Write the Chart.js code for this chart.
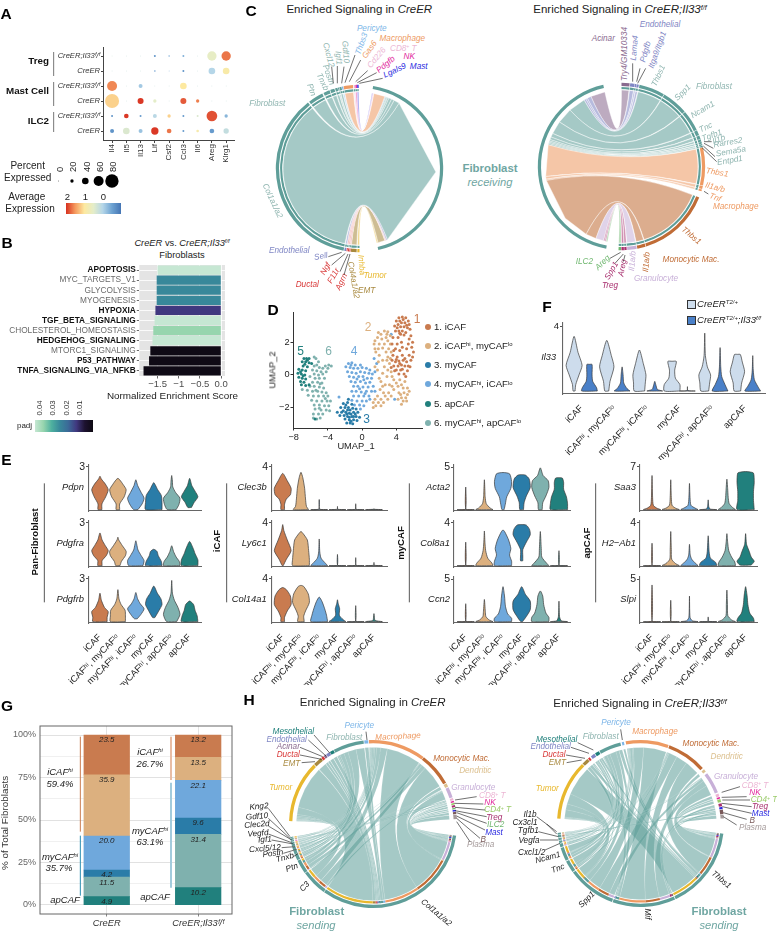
<!DOCTYPE html>
<html><head><meta charset="utf-8">
<script src="https://cdn.jsdelivr.net/npm/chart.js@4"></script>
<style>
html,body{margin:0;padding:0;background:#fff;width:777px;height:932px;overflow:hidden;font-family:"Liberation Sans",Arial,sans-serif}
#page{position:relative;width:777px;height:932px;overflow:hidden}
canvas{position:absolute}
.t{position:absolute;white-space:nowrap;line-height:1;transform-origin:center}
.t sup{font-size:.62em;vertical-align:baseline;position:relative;top:-.45em;line-height:0}
svg{position:absolute;left:0;top:0;pointer-events:none}
</style></head><body><div id="page"></div>
<script>
/* ---------- shared categories ---------- */
const HI='ʰⁱ', LO='ˡᵒ';
const fibroTypes=['iCAF','iCAF'+HI+', myCAF'+LO,'myCAF'+HI+', iCAF'+LO,'myCAF','myCAF'+HI+', apCAF'+LO,'apCAF'];
const fibroColors=['#c97b4f','#dcb07f','#6fa8dc','#2a7ca8','#7fb1ae','#21807d'];
const umapColors=['#c97b4f','#dcb07f','#2a7ca8','#6fa8dc','#21807d','#7fb1ae'];

/* ---------- A: dot plot ---------- */
const dotGenes=['Il4','Il5','Il13','Lif','Csf2','Ccl3','Il6','Areg','Klrg1'];
const dotRows=['CreER;Il33ᶠ/ᶠ','CreER','CreER;Il33ᶠ/ᶠ','CreER','CreER;Il33ᶠ/ᶠ','CreER'];
const dotPct=[
 [4,4,3,12,8,12,3,56,56],
 [3,3,3,9,4,12,3,40,40],
 [60,3,24,2,2,40,2,2,2],
 [84,3,36,20,3,36,20,2,2],
 [12,28,12,24,20,12,12,64,20],
 [24,40,24,44,28,12,16,28,32]];
const dotExpr=[
 [.3,.2,.2,-.6,-.4,-.3,.2,.55,1.7],
 [.2,.2,.2,-.5,-.3,-.6,.2,.0,.9],
 [1.6,.2,-.1,.2,.2,1,.2,.2,.2],
 [1.15,.2,2.05,.5,.2,1.85,1.65,.2,.2],
 [-.6,2.05,-.5,.05,1.15,-.5,.4,1.9,-.25],
 [-.6,.4,-.15,2.05,1.7,-.5,.85,-.5,.15]];
const pctLegend=[0,20,40,60,80];

/* ---------- B: enrichment bars ---------- */
const gseaPathways=['APOPTOSIS','MYC_TARGETS_V1','GLYCOLYSIS','MYOGENESIS','HYPOXIA','TGF_BETA_SIGNALING','CHOLESTEROL_HOMEOSTASIS','HEDGEHOG_SIGNALING','MTORC1_SIGNALING','P53_PATHWAY','TNFA_SIGNALING_VIA_NFKB'];
const gseaNes=[-1.5,-1.52,-1.52,-1.52,-1.55,-1.57,-1.6,-1.62,-1.67,-1.7,-1.83];
const gseaPadj=[.044,.023,.023,.023,.012,.044,.04,.044,.0005,.0005,.0005];
const gseaBold=['APOPTOSIS','HYPOXIA','TGF_BETA_SIGNALING','HEDGEHOG_SIGNALING','P53_PATHWAY','TNFA_SIGNALING_VIA_NFKB'];

/* ---------- D: UMAP ---------- */
const umap1=[[4,3.3],[4.3,3.5],[4.7,3.55],[5.1,3.5],[5.4,3.3],[4.2,3.1],[4.6,3.2],[5,3.2],[5.5,3.1],[3.8,3],[4.1,2.9],[4.5,2.95],[4.9,2.95],[5.3,2.9],[5.6,2.8],[3.9,2.7],[4.3,2.7],[4.7,2.7],[5.1,2.6],[4.5,2.5],[4.9,2.45],[5.7,2.4],[3.6,2.3],[4.2,2.3],[5.5,2.2],[5.9,2],[3.5,1.9],[4.6,2],[5.8,1.7],[3.9,1.6],[4.4,1.5],[5.2,1.6],[6,1.4],[3.6,1.2],[4.1,1.1],[4.7,1.2],[5.5,1.2],[3.5,.9],[3.9,.8],[4.3,.85],[4.8,.9],[5.2,.8],[5.7,.9],[3.7,.55],[4.2,.55],[4.6,.6],[5,.55],[5.6,.5],[4,.3],[4.5,.3],[5.3,.25],[4.3,.05],[4.9,.05],[5.1,-.1],[4.4,3.3],[4.8,3.4],[5.2,3.05],[4.4,2.55],[3.4,.45],[4.7,1.7],[5.4,1.9],[4.1,1.9],[3.7,1.5],[5,1],[4.4,.7],[4.7,.35],[5.4,.55],[4,.95],[5.9,1.1],[3.8,.25]];
const umap2=[[2.2,2.5],[2.6,2.7],[3,2.65],[3.3,2.4],[1.8,2.3],[2.3,2.2],[2.8,2.3],[1.5,2.1],[3,2.1],[1.4,1.9],[2,1.9],[2.6,1.9],[3.3,1.9],[1.5,1.6],[1.9,1.6],[2.4,1.65],[3.1,1.6],[1.6,1.4],[2.8,1.4],[3.4,1.4],[3,1.1],[3.3,1],[2.4,.9],[3.2,.7],[2.6,.5],[1.9,.8],[1.8,.3],[2.4,.1],[3,.3],[2.9,-.1],[3.5,-.1],[2.2,-.4],[3.7,-.3],[4.4,-.3],[5,-.4],[2.7,-.6],[3.2,-.6],[4.2,-.7],[4.8,-.8],[5.3,-.8],[2.1,-.9],[3.7,-.9],[2.5,-1.1],[3.1,-1.1],[4.3,-1.1],[4.9,-1.1],[5.3,-1.2],[1.8,-1.3],[2.7,-1.3],[4.6,-1.4],[5.1,-1.4],[1.5,-1.5],[2.2,-1.5],[3,-1.5],[4.2,-1.5],[4.8,-1.6],[5.2,-1.6],[1.3,-1.7],[1.9,-1.7],[2.5,-1.7],[4.6,-1.8],[1.6,-1.9],[2.2,-1.9],[1.3,-2],[2.9,.9],[3.4,.2],[4,-.5],[4.6,-.6],[3.4,-1.3],[2.4,-.7],[2,-.2],[1.5,.5],[2,1.2],[2.9,2.5],[1.9,2.6],[3.5,-.7],[5.5,-1],[4.5,-1.2]];
const umap3=[[-2.2,-1.75],[-1.7,-1.7],[-1.2,-1.8],[-2.5,-2],[-2,-2],[-1.6,-2],[-1.1,-2.05],[-.7,-2.1],[-2.9,-2.3],[-2.4,-2.3],[-1.9,-2.3],[-1.5,-2.35],[-1,-2.3],[-.5,-2.3],[-2.6,-2.5],[-2.1,-2.5],[-1.7,-2.55],[-1.2,-2.55],[-.7,-2.55],[-.3,-2.6],[-2,-2.7],[-1.5,-2.75],[-1,-2.75],[-.6,-2.8],[-1.8,-2.95],[-1.4,-2.95],[-1.1,-3],[-1.9,-1.85],[-1.4,-2.15],[-2.2,-2.2],[-1.7,-2.15],[-1.3,-2.4],[-.8,-2.4],[-1.8,-2.4],[-1.5,-2.6],[-1,-2.55],[-1.3,-2.85],[-1.6,-1.5]];
const umap4=[[-1.6,.7],[-1.2,.75],[-.8,.6],[-1.9,.5],[-1.4,.45],[-1,.4],[-.5,.4],[0,.45],[.5,.4],[.9,.3],[-1.7,.2],[-1.2,.15],[-.7,.1],[-.2,.2],[.3,.15],[.8,.1],[1.2,.05],[-1.5,-.1],[-1,-.15],[-.4,-.1],[.1,-.1],[.6,-.2],[1.1,-.2],[-1.3,-.4],[-.8,-.45],[-.2,-.4],[.4,-.5],[.9,-.45],[-1,-.7],[-.5,-.7],[.1,-.75],[.7,-.75],[1.3,-.7],[-1.2,-1],[-.7,-1],[-.1,-1.05],[.5,-1],[1.1,-1],[1.5,-1],[-1,-1.3],[-.4,-1.3],[.2,-1.3],[.8,-1.3],[-1.2,-1.55],[-.6,-1.6],[0,-1.6],[.5,-1.6],[-.9,-1.85],[-.3,-1.85],[.2,-1.9],[-.2,-2.1],[-2.7,-1.35],[1.4,1],[1.7,.7],[1.5,.2],[-1.3,.6],[-.2,.6],[.2,-.3],[-.6,-.25],[.9,-1.5],[-.3,-.85],[.35,-1.15],[3.8,-1.5],[3.4,2.5]];
const umap5=[[-6.8,1],[-6.5,1],[-6.2,1],[-7,.8],[-6.6,.8],[-6.2,.75],[-5.9,.7],[-6.9,.55],[-6.4,.5],[-7.4,.35],[-7,.3],[-6.6,.25],[-7.5,.1],[-7.1,.05],[-6.7,0],[-7.4,-.15],[-7,-.2],[-6.6,-.25],[-7.2,-.4],[-6.8,-.45],[-7.1,-.6],[-6.6,-.65],[-6.2,-.6],[-6.4,.9],[-6.7,.65],[-7.2,.2],[-6.9,-.05],[-5.5,-2.7]];
const umap6=[[-5.6,1.1],[-5.4,1],[-5.1,.8],[-3.9,.6],[-3.6,.55],[-4.3,.55],[-5.6,.55],[-5,.45],[-4.6,.4],[-5.8,.3],[-5.3,.25],[-4.8,.2],[-4.2,.2],[-5.6,.05],[-5.1,0],[-4.6,.05],[-6.1,-.1],[-5.5,-.2],[-5,-.2],[-4.4,-.2],[-5.8,-.45],[-5.2,-.45],[-4.7,-.5],[-6.1,-.7],[-5.6,-.7],[-5,-.75],[-4.5,-.8],[-6.4,-.95],[-5.8,-1],[-5.2,-1],[-4.7,-1.05],[-4.2,-1.1],[-6.3,-1.25],[-5.7,-1.3],[-5.1,-1.3],[-4.5,-1.3],[-4,-1.3],[-5.9,-1.55],[-5.3,-1.6],[-4.7,-1.6],[-4.1,-1.6],[-3.7,-1.6],[-5.6,-1.85],[-5,-1.85],[-4.4,-1.9],[-3.9,-1.9],[-5.5,-2.1],[-4.8,-2.15],[-4.2,-2.15],[-3.8,-2.2],[-5.7,-2.4],[-5.1,-2.4],[-4.6,-2.4],[-5.7,-2.65],[-5.3,-2.7],[-4.9,-2.65],[-7,-.9],[-4,.4],[-5.3,.6],[-4.9,-.55],[-5.4,-.95],[-4.3,-1.45],[-5,-2.05]];

/* ---------- E: violin profiles, pairs of [expression, half width] ---------- */
const Pdpn=[[[0,.11],[.4,.11],[.9,.32],[1.4,.46],[1.8,.3],[2.15,.08],[2.35,0]],[[0,.1],[.4,.1],[.9,.35],[1.4,.46],[1.75,.3],[2.1,.1],[2.2,0]],[[0,.12],[.4,.35],[.8,.46],[1.2,.3],[1.7,.1],[2.1,0]],[[0,.46],[.5,.46],[1,.42],[1.4,.22],[1.75,.08],[1.9,0]],[[0,.25],[.35,.4],[.8,.46],[1.2,.22],[1.6,.06],[2,.04],[2.4,0]],[[.15,.1],[.5,.25],[.9,.46],[1.3,.3],[1.7,.12],[2.2,0]]];
const Pdgfra=[[[0,.12],[.35,.12],[.7,.35],[1.05,.46],[1.4,.3],[1.8,.12],[2.3,0]],[[0,.12],[.3,.2],[.7,.42],[1,.46],[1.4,.25],[1.8,.05],[2,0]],[[0,.4],[.35,.46],[.7,.3],[1.1,.12],[1.5,.05],[1.75,0]],[[0,.46],[.3,.42],[.7,.25],[1,.18],[1.15,0]],[[0,.46],[.3,.42],[.6,.25],[1,.1],[1.4,0]],[[0,.46],[.4,.46],[.85,.3],[1.2,.2],[1.7,0]]];
const Pdgfrb=[[[0,.4],[.3,.4],[.7,.46],[1,.25],[1.5,.08],[2,0]],[[0,.42],[.4,.42],[.8,.4],[1.2,.18],[1.6,.06],[2.25,0]],[[.2,.08],[.5,.28],[.9,.46],[1.25,.25],[1.6,.1],[2.05,0]],[[.28,.06],[.8,.3],[1.2,.46],[1.6,.4],[2,.2],[2.5,0]],[[0,.28],[.5,.46],[1,.35],[1.5,.15],[2,.04],[2.9,0]],[[0,.46],[.4,.42],[.8,.3],[1.2,.22],[1.45,0]]];
const Clec3b=[[[0,.1],[.5,.1],[1,.2],[1.4,.42],[2,.46],[2.7,.25],[3.4,0]],[[0,.42],[.3,.3],[1,.25],[2,.2],[3,.1],[3.5,0]],[[0,.46],[.05,.02],[.6,.015],[.95,0]],[[0,.46],[.04,.012],[.3,0]],[[0,.46],[.04,.012],[.55,0]],[[0,.46],[.03,.01],[.08,0]]];
const Ly6c1=[[[0,.03],[.6,.2],[1.4,.46],[2.4,.25],[3.3,.06],[3.85,0]],[[0,.46],[.6,.46],[1.4,.42],[2.4,.35],[3,.12],[3.2,0]],[[0,.46],[.2,.35],[.7,.1],[1.3,.03],[2.5,0]],[[0,.46],[.04,.012],[1.05,0]],[[0,.46],[.04,.012],[.75,0]],[[0,.46],[.04,.012],[.3,0]]];
const Col14a1=[[[0,.1],[.4,.1],[1,.25],[1.6,.46],[2.4,.42],[3,.2],[3.2,0]],[[0,.18],[.5,.15],[1,.25],[1.8,.46],[2.6,.4],[3.3,.15],[3.4,0]],[[0,.46],[.6,.4],[1.2,.3],[1.9,.15],[2.3,0]],[[0,.46],[.2,.3],[.6,.1],[1.2,.12],[1.7,.04],[2.05,0]],[[0,.46],[.04,.012],[1.5,0]],[[0,.46],[.1,.06],[.3,.03],[.75,0]]];
const Acta2=[[[0,.46],[.05,.012],[2.65,0]],[[0,.46],[.2,.3],[.7,.1],[1.5,.04],[2.1,.03],[3.5,0]],[[0,.06],[.6,.12],[1.5,.2],[2.5,.42],[3.3,.46],[4.2,.35],[4.35,0]],[[0,.1],[.8,.13],[1.6,.25],[2.6,.46],[3.6,.4],[4.05,.2],[4.1,0]],[[0,.1],[.8,.13],[1.6,.3],[2.6,.46],[3.4,.42],[4,.15],[4.9,0]],[[0,.46],[.7,.46],[1.5,.4],[2.4,.25],[3.2,.25],[3.7,.18],[3.75,0]]];
const Col8a1=[[[0,.46],[.04,.012],[2.2,0]],[[0,.46],[.25,.4],[.7,.18],[1.4,.07],[2.2,.03],[3.25,0]],[[0,.46],[.4,.46],[1,.35],[1.6,.42],[2.4,.3],[3.15,.1],[3.35,0]],[[.45,.06],[.9,.06],[1.5,.06],[2.2,.25],[2.9,.46],[3.4,.42],[3.8,.25],[3.85,0]],[[0,.46],[.2,.35],[.8,.08],[1.6,.05],[3.2,0]],[[0,.46],[.04,.012],[1.4,0]]];
const Ccn2=[[[0,.46],[.05,.012],[2.1,0]],[[0,.46],[.2,.25],[.6,.08],[1.2,.05],[2.6,0]],[[0,.46],[.4,.46],[.9,.25],[1.8,.13],[3,.08],[4.1,0]],[[0,.05],[.6,.25],[1.4,.46],[2.4,.46],[3.2,.2],[4.1,0]],[[0,.46],[.5,.46],[1,.3],[2,.18],[3,.13],[3.6,0]],[[0,.46],[.1,.12],[.6,.03],[2.4,0]]];
const Saa3=[[[0,.46],[.25,.25],[.7,.07],[2,.03],[5.6,0]],[[0,.46],[.25,.25],[.7,.07],[2,.03],[4.9,0]],[[0,.46],[.25,.3],[.7,.08],[2,.03],[4.3,0]],[[0,.46],[.1,.1],[.5,.03],[1.6,0]],[[0,.46],[.35,.3],[1,.12],[2,.07],[3.5,.04],[5,0]],[[0,.46],[1.5,.42],[3,.42],[4.5,.46],[6,.42],[6.2,.2],[6.25,0]]];
const H2Ab1=[[[0,.46],[.04,.012],[2.1,0]],[[0,.46],[.2,.25],[.6,.05],[1.5,.03],[3.2,0]],[[0,.46],[.25,.3],[.6,.12],[1,.04],[2,0]],[[0,.46],[.3,.4],[.7,.12],[1.3,.05],[2.8,0]],[[0,.46],[.35,.42],[.8,.25],[1.4,.1],[2.2,.04],[3,0]],[[.05,.3],[.4,.46],[.8,.3],[1.3,.2],[2,.05],[3,0]]];
const Slpi=[[[0,.46],[.05,.012],[4.3,0]],[[0,.46],[.05,.012],[2.5,0]],[[0,.46],[.1,.15],[.5,.03],[3,0]],[[0,.46],[.04,.012],[.55,0]],[[0,.46],[.2,.25],[.7,.05],[2,.03],[3.7,0]],[[0,.46],[.4,.42],[1,.22],[2,.12],[3,.08],[4.1,0]]];

/* ---------- F: Il33 split violins ---------- */
const il33Control=[[[0,.03],[.4,.05],[1,.15],[1.6,.245],[2.4,.12],[3.4,0]],[[0,.06],[.6,.1],[1.5,.22],[2.2,.14],[3.15,0]],[[0,.16],[.5,.18],[1,.2],[1.7,.12],[2.55,0]],[[0,.24],[.4,.24],[.8,.1],[1.3,.08],[1.84,.13],[1.85,0]],[[0,.12],[.5,.15],[1,.18],[1.5,.08],[2.2,.02],[3.6,0]],[[0,.1],[.5,.13],[1.2,.22],[1.8,.15],[2.27,.09],[2.28,0]]];
const il33Flox=[[[0,.24],[.2,.22],[.6,.1],[1,.08],[1.65,.08],[1.66,0]],[[0,.24],[.15,.15],[.5,.05],[1,.03],[1.5,0]],[[0,.24],[.1,.08],[.4,.03],[.6,0]],[[0,.24],[.03,.01],[.27,0]],[[0,.24],[.4,.15],[.9,.05],[1.5,.02],[2.7,0]],[[0,.24],[.3,.15],[.7,.05],[1.3,.015],[2.2,0]]];

/* ---------- G: stacked composition ---------- */
const compGroups=['CreER','CreER;Il33ᶠ/ᶠ'];
const compStackOrder=[5,4,3,2,1,0];
const compCre=[4.9,11.5,4.2,20.0,35.9,23.5];
const compFlox=[10.2,31.4,9.6,22.1,13.5,13.2];

/* ---------- C / H: chord diagrams ---------- */
const pal={F:'#5f9e99',Mac:'#ee9a62',Mono:'#c06c36',Den:'#dcc08f',Gran:'#c8b0d8',CD8:'#ecb6d4',NK:'#e1259b',CD4:'#9acb6a',Treg:'#a8306f',ILC:'#70b870',Mast:'#2a2ae0',B:'#7a5a5a',Pla:'#a59a9a',Tum:'#e8b82e',EMT:'#a8893f',Duc:'#d93a3a',Aci:'#8a6a8f',End:'#7f86c4',Mes:'#1e7f7a',Per:'#7db6e8'};
const cLeftSectors=['g0','R','g1','Inhba','g2','Col4','g3','Agrn','g4','F11r','g5','Ngf','g6','Sell','g7','Col1','g8','Ptn','g9','Tnxb','g10','Postn','g11','Cxcl12','g12','Igf1','g13','Gdf10','g14','Thbs3','g15','Gas6','g16','Cd226','g17','Pdgfb','g18','Lgals9','g19'];
const cLeftSpans=[9.4,157.6,13,1.5,.5,4,.3,.7,.3,.7,.3,.7,.3,1.2,.5,131,1,10.6,.9,4.5,.5,3,.5,1.7,.3,.7,.3,1.5,.3,.9,.3,6.5,.5,1,.2,1,.2,1,.6];
const cLeftColors=['gap','F','gap','Tum','gap','EMT','gap','Duc','gap','Duc','gap','Duc','gap','End','gap','F','gap','F','gap','F','gap','F','gap','F','gap','F','gap','F','gap','Per','gap','Mac','gap','CD8','gap','NK','gap','Mast','gap'];
const cLeftLinks=[['Inhba','R',1],['Col4','R',5],['Agrn','R',.3],['F11r','R',.3],['Ngf','R',.3],['Sell','R',1],['Col1','R',119],['Ptn','R',4],['Tnxb','R',2],['Postn','R',2],['Cxcl12','R',1],['Igf1','R',.6],['Gdf10','R',.8],['Thbs3','R',.6],['Gas6','R',8],['Cd226','R',.5],['Pdgfb','R',.4],['Lgals9','R',.4]];

const cRightSectors=['Try4','g1','Lama4','g2','Pdgfb','g3','Itga9','g4','Thbs1F','g5','Spp1F','g6','Ncam1','g7','Tnc','g8','Tgfb1','g9','Il1b','g10','Rarres2','g11','Sema5a','g12','Entpd1','g13','Thbs1M','g14','Il1M','g15','Tnf','g16','Thbs1O','g17','Il1O','g18','Il1G','g19','AregT','g20','Spp1T','g21','AregI','g22','R','g23'];
const cRightSpans=[5.6,.4,3,.2,1.1,.2,1.5,.5,17.9,.4,18.2,.4,14.6,.4,3.6,.3,2.5,.3,1.5,.3,1.2,.3,1,.3,.8,.4,26.2,.4,2.2,.3,1.3,4.5,51.1,.4,5.8,.4,6.6,.4,1.6,.3,1.7,.3,1.7,8.5,156.9,12.6];
const cRightColors=['Aci','gap','End','gap','End','gap','End','gap','F','gap','F','gap','F','gap','F','gap','F','gap','F','gap','F','gap','F','gap','F','gap','Mac','gap','Mac','gap','Mac','gap','Mono','gap','Mono','gap','Gran','gap','Treg','gap','Treg','gap','ILC','gap','F','gap'];
const cRightLinks=[['Try4','R',11],['Lama4','R',3],['Pdgfb','R',1.3],['Itga9','R',1.5],['Thbs1F','R',13],['Spp1F','R',12],['Ncam1','R',10],['Tnc','R',3],['Tgfb1','R',2],['Il1b','R',1.2],['Rarres2','R',1],['Sema5a','R',1],['Entpd1','R',1],['Thbs1M','R',24],['Il1M','R',2],['Tnf','R',1],['Thbs1O','R',52],['Il1O','R',8],['Il1G','R',6],['AregT','R',1],['Spp1T','R',1],['AregI','R',1]];

const hLeftSectors=['Mac','g1','Mono','g2','Den','g3','Gran','g4','CD8','g5','NK','g6','CD4','g7','Treg','g8','ILC','g9','Mast','g10','B','g11','Pla','g12','Col1','g13','C3','g14','Ptn','g15','Tnxb','g16','Postn','g17','Cxcl','g18','Igf1','g19','Vegfd','g20','Clec2d','g21','Gdf10','g22','Kng2','g23','Tum','g24','EMT','g25','Duc','g26','Aci','g27','End','g28','Mes','g29','F','g30','Per','g31'];
const hLeftSpans=[39.8,.3,23.2,.5,2.5,.5,7.4,.6,1.5,.4,1.1,.4,1.1,.4,1.5,.4,1,.4,1,.4,1.6,.4,3,11.4,117.6,.4,18,.4,9.6,.4,4.1,.3,2.7,.3,2.2,.3,1.5,.3,1.2,.3,1,.3,1.1,.3,.7,11,43,.5,6.2,.3,1.8,.3,1.7,.3,2.7,.3,2.7,.4,21.3,.5,2.7,.5];
const hLeftColors=['Mac','gap','Mono','gap','Den','gap','Gran','gap','CD8','gap','NK','gap','CD4','gap','Treg','gap','ILC','gap','Mast','gap','B','gap','Pla','gap','F','gap','F','gap','F','gap','F','gap','F','gap','F','gap','F','gap','F','gap','F','gap','F','gap','F','gap','Tum','gap','EMT','gap','Duc','gap','Aci','gap','End','gap','Mes','gap','F','gap','Per','gap'];
const hLeftLinks=[['Col1','Pla',1],['Col1','B',.7],['Col1','Mast',.7],['Col1','ILC',.6],['Col1','Treg',.8],['Col1','CD4',.6],['Col1','NK',.5],['Col1','CD8',.6],['Col1','Gran',14],['Col1','Den',.7],['Col1','Mono',28],['Col1','Mac',26],['Col1','Per',1.5],['Col1','F',2],['Col1','Mes',1],['Col1','End',1],['Col1','Aci',.8],['Col1','Duc',1],['Col1','EMT',2],['Col1','Tum',36],
['C3','Gran',1.5],['C3','Mono',5],['C3','Mac',5],['C3','Tum',6],
['Ptn','Gran',.7],['Ptn','Mono',3],['Ptn','Mac',3],['Ptn','F',2],['Ptn','Tum',1.5],
['Tnxb','Mono',.8],['Tnxb','Mac',1.5],['Tnxb','F',1],['Tnxb','Tum',1],
['Postn','Mac',1],['Postn','F',1],['Postn','Tum',1],
['Cxcl','Gran',.5],['Cxcl','Mac',1],['Cxcl','Tum',.7],
['Igf1','Mac',.7],['Igf1','F',.4],['Igf1','Tum',.4],
['Vegfd','Mono',.3],['Vegfd','Mac',.6],['Vegfd','Tum',.3],
['Clec2d','NK',.5],['Clec2d','CD8',.5],
['Gdf10','Mac',.4],['Gdf10','F',.3],['Gdf10','Tum',.4],
['Kng2','Mac',.3],['Kng2','Tum',.4]];

const hRightSectors=['Mac','g1','Mono','g2','Den','g3','Gran','g4','CD8','g5','NK','g6','CD4','g7','Treg','g8','Mast','g9','B','g10','Pla','g11','Thbs1','g12','Mif','g13','Spp1','g14','Tnc','g15','Ncam1','g16','Cxcl','g17','Vegfa','g18','Tgfb1','g19','Cx3cl1','g20','Il1b','g21','Tum','g22','EMT','g23','Duc','g24','End','g25','Mes','g26','F','g27','Per','g28'];
const hRightSpans=[30,.6,28,1.2,2,1.5,15,1,2,.5,1,.5,2,1,2,.5,1.5,.4,3.1,.4,2.6,10.5,58,.5,44,.5,34,.5,8.5,.5,9.5,.5,2.5,.4,1.6,.4,1.6,.4,1.6,.3,1.2,9.9,42.1,.5,4.6,.4,1.5,1,3,.5,3,.5,15.5,1,1.5,1.2];
const hRightColors=['Mac','gap','Mono','gap','Den','gap','Gran','gap','CD8','gap','NK','gap','CD4','gap','Treg','gap','Mast','gap','B','gap','Pla','gap','F','gap','F','gap','F','gap','F','gap','F','gap','F','gap','F','gap','F','gap','F','gap','F','gap','Tum','gap','EMT','gap','Duc','gap','End','gap','Mes','gap','F','gap','Per','gap'];
const hRightLinks=[['Thbs1','Pla',.8],['Thbs1','B',.8],['Thbs1','Mast',.5],['Thbs1','Treg',1],['Thbs1','CD4',.5],['Thbs1','NK',.3],['Thbs1','CD8',.6],['Thbs1','Gran',14],['Thbs1','Den',.5],['Thbs1','Mono',14],['Thbs1','Per',.7],['Thbs1','F',2],['Thbs1','Mes',1],['Thbs1','Duc',.5],['Thbs1','EMT',1],['Thbs1','Tum',20],
['Mif','B',1],['Mif','Treg',1.5],['Mif','Gran',8],['Mif','Mono',11],['Mif','Mac',20],['Mif','F',2],['Mif','Mes',.8],['Mif','End',1],
['Spp1','Gran',4],['Spp1','Mono',8],['Spp1','Mac',9],['Spp1','F',4],['Spp1','EMT',1],['Spp1','Tum',7],
['Tnc','Mono',1],['Tnc','Mac',1],['Tnc','F',2],['Tnc','Tum',4],
['Ncam1','Mac',2],['Ncam1','F',2],['Ncam1','End',.5],['Ncam1','Duc',.5],['Ncam1','Tum',5],
['Cxcl','Gran',1],['Cxcl','Mac',.8],['Cxcl','Tum',.7],
['Vegfa','Mono',.4],['Vegfa','Mac',.5],['Vegfa','End',1],
['Tgfb1','Mono',.5],['Tgfb1','Mac',.5],['Tgfb1','F',.3],['Tgfb1','Tum',.3],
['Cx3cl1','B',.7],['Cx3cl1','Mono',.5],['Cx3cl1','Mac',.4],
['Il1b','Gran',.4],['Il1b','Mac',.4],['Il1b','F',.3],['Il1b','Tum',.2]];

/* ---------- text tables: [html, x, y, rotation, colour] ---------- */
const cLeftText=[['Pericyte',371.7,29,0,'Per'],['Macrophage',402.3,39,0,'Mac'],['CD8<sup>+</sup> T',403.3,48.7,0,'CD8'],['NK',409.3,56.7,0,'NK'],['Mast',418.7,66.7,0,'Mast'],['Lgals9',395,71.3,-25,'Mast'],['Pdgfb',386,65.3,-40,'NK'],['Cd226',377.3,57.7,-50,'CD8'],['Gas6',370,50,-55,'Mac'],['Thbs3',361.7,44.3,-70,'Per'],['Gdf10',345,51.7,85,'Ft'],['Igf1',337.7,58.3,85,'Ft'],['Cxcl12',328.3,55,75,'Ft'],['Postn',327.7,75,70,'Ft'],['Tnxb',321.7,81.7,65,'Ft'],['Ptn',310.7,90.3,70,'Ft'],['Fibroblast',267.3,103.7,0,'Ft'],['Col1a1/a2',272.3,201,65,'Ft'],['Endothelial',289.3,250.7,0,'End'],['Sell',320.7,257.3,-10,'End'],['Ngf',325.7,269.3,-60,'Duc'],['F11r',334.3,276,-60,'Duc'],['Agrn',342.3,281.7,-65,'Duc'],['Ductal',307.3,285,0,'Duc'],['Col4a1/a2',353.3,280,80,'EMT'],['Inhba',361,265,85,'Tum'],['Tumor',375,276,0,'Tum'],['EMT',366.7,291,0,'EMT']];
const cRightText=[['Acinar',603.3,39.3,0,'Aci'],['Try4/GM10334',625,54,-90,'Aci'],['Lama4',635,48.3,-85,'End'],['Pdgfb',645.7,51.7,-75,'End'],['Itga9/Itgb1',658.3,50,-70,'End'],['Endothelial',660,25,0,'End'],['Thbs1',659.3,75.7,-65,'Ft'],['Spp1',682.7,93.3,-45,'Ft'],['Fibroblast',714,87.3,0,'Ft'],['Ncam1',703.3,110,-30,'Ft'],['Tnc',705.7,127.7,-25,'Ft'],['Tgfb1',711.7,135.7,-20,'Ft'],['Il1b',719.3,140,-20,'Ft'],['Rarres2',728.3,143.3,-10,'Ft'],['Sema5a',731,151.7,-10,'Ft'],['Entpd1',730,160.7,-10,'Ft'],['Thbs1',717.3,172.7,10,'Mac'],['Il1a/b',715,187.7,15,'Mac'],['Tnf',715,197.7,20,'Mac'],['Macrophage',735.7,207.3,0,'Mac'],['Thbs1',691,236,40,'Mono'],['Monocytic Mac.',691,260,0,'Mono'],['Il1a/b',646.7,261.7,-85,'Mono'],['Il1a/b',633.3,261,-85,'Gran'],['Areg',603.3,263.3,-45,'ILC'],['ILC2',584.3,262.3,0,'ILC'],['Spp1',611.7,270.7,-60,'Treg'],['Areg',623,268.3,-80,'Treg'],['Treg',610,285.7,0,'Treg'],['Granulocyte',656,279.3,0,'Gran']];
const hLeftText=[['Pericyte',359.3,726,0,'Per'],['Mesothelial',293.3,731.7,0,'Mes'],['Fibroblast',344.3,737.7,0,'Ft'],['Macrophage',398.3,736.7,-3,'Mac'],['Monocytic Mac.',461.7,759,0,'Mono'],['Endothelial',286.7,740,0,'End'],['Acinar',288.3,747.3,0,'Aci'],['Ductal',288.3,755,0,'Duc'],['EMT',291.7,764,0,'EMT'],['Tumor',280.7,787.7,0,'Tum'],['Dendritic',475.3,771,0,'Den'],['Granulocyte',473.3,787.7,0,'Gran'],['CD8<sup>+</sup> T',492.3,796,0,'CD8'],['NK',490,803.3,0,'NK'],['CD4<sup>+</sup> T',497.7,810.3,0,'CD4'],['Treg',494.3,817.7,0,'Treg'],['ILC2',495.7,825.3,0,'ILC'],['Mast',494,833,0,'Mast'],['B',483.3,840,0,'B'],['Plasma',480.7,845,0,'Pla'],['Kng2',259,807.3,-5,'K'],['Gdf10',257.3,817,-5,'K'],['Clec2d',256.7,825,-5,'K'],['Vegfd',258.3,833.7,-5,'K'],['Igf1',265,840.3,-5,'K'],['Cxcl5/12',265,849,-5,'K'],['Postn',273.3,854.3,-8,'K'],['Tnxb',284.7,857.7,-15,'K'],['Ptn',291.7,868.3,-20,'K'],['C3',305,886.7,-45,'K'],['Col1a1/a2',435.7,913.3,40,'K']];
const hRightText=[['Pericyte',616,723.3,0,'Per'],['Mesothelial',556.7,740,0,'Mes'],['Fibroblast',600.7,737.3,0,'Ft'],['Macrophage',655,731.7,0,'Mac'],['Monocytic Mac.',711,744,0,'Mono'],['Endothelial',550.7,747.3,0,'End'],['Ductal',554,755,0,'Duc'],['EMT',557.3,763.3,0,'EMT'],['Tumor',547.3,789.3,0,'Tum'],['Dendritic',726.7,757.3,0,'Den'],['Granulocyte',736,777.3,0,'Gran'],['CD8<sup>+</sup> T',755,785.7,0,'CD8'],['NK',755,793.3,0,'NK'],['CD4<sup>+</sup> T',764,800,0,'CD4'],['Treg',760,807.3,0,'Treg'],['Mast',760.7,814,0,'Mast'],['B',752.3,821.3,0,'B'],['Plasma',752.7,828,0,'Pla'],['Il1b',530,815.3,0,'K'],['Cx3cl1',525,823.3,0,'K'],['Tgfb1',528.3,831,0,'K'],['Vegfa',529,840.7,0,'K'],['Cxcl1/2',531.7,852.7,0,'K'],['Ncam1',548.3,858.3,-15,'K'],['Tnc',558.3,869,-20,'K'],['Spp1',586.7,900,-45,'K'],['Mif',646.7,914,90,'K'],['Thbs1',721,880,40,'K']];

/* ---------- page helpers ---------- */
const page=document.getElementById('page');
const FONT='"Liberation Sans",Arial,sans-serif';
Chart.defaults.font.family=FONT;
Chart.defaults.color='#333';
const textCol=Object.assign({Ft:'#8fb5b0',K:'#222'},pal);

function T(html,x,y,o={}){
  const d=document.createElement('div');d.className='t';d.innerHTML=html;
  d.style.left=x+'px';d.style.top=y+'px';
  d.style.fontSize=(o.size||8)+'px';d.style.color=o.color||'#222';
  if(o.italic)d.style.fontStyle='italic';
  if(o.bold)d.style.fontWeight='bold';
  const ax=o.align==='right'?'-100%':o.align==='left'?'0':'-50%';
  d.style.transform=`translate(${ax},-50%) rotate(${o.rot||0}deg)`;
  page.appendChild(d);
}
function hexA(h,a){const n=parseInt(h.slice(1),16);return `rgba(${n>>16},${(n>>8)&255},${n&255},${a})`;}
function plot(rect,m,cfg){
  const c=document.createElement('canvas');
  const w=Math.round(rect.r-rect.l+m.l+m.r),h=Math.round(rect.b-rect.t+m.t+m.b);
  c.width=w;c.height=h;c.style.left=(rect.l-m.l)+'px';c.style.top=(rect.t-m.t)+'px';
  c.style.width=w+'px';c.style.height=h+'px';
  page.appendChild(c);
  cfg.options=cfg.options||{};
  const o=cfg.options;
  o.responsive=false;o.animation=false;o.events=[];
  o.plugins=Object.assign({legend:{display:false},tooltip:{enabled:false}},o.plugins||{});
  o.layout={autoPadding:false,padding:{top:m.t,right:m.r,left:0,bottom:0}};
  if(o.scales){
    for(const k in o.scales){
      const s=o.scales[k];
      s.afterFit=a=>{
        if(k==='x')a.height=m.b; else a.width=m.l;
        a.paddingLeft=a.paddingRight=a.paddingTop=a.paddingBottom=0;
      };
    }
  }
  return new Chart(c,cfg);
}
function mix(stops,v){
  if(v<=stops[0][0])return stops[0][1];
  for(let i=1;i<stops.length;i++){
    if(v<=stops[i][0]){
      const [a,ca]=stops[i-1],[b,cb]=stops[i],t=(v-a)/(b-a);
      const p=s=>[1,3,5].map(j=>parseInt(s.slice(j,j+2),16));
      const x=p(ca),y=p(cb);
      return `rgb(${x.map((q,j)=>Math.round(q+(y[j]-q)*t)).join(',')})`;
    }
  }
  return stops[stops.length-1][1];
}
const exprStops=[[-1,'#4575b4'],[-.4,'#6ea3d2'],[0,'#b5d6e8'],[.5,'#e4edc9'],[1,'#fde9a0'],[1.5,'#f59a5e'],[2,'#dc3f2a'],[2.1,'#d7301f']];
const padjStops=[[0,'#0d0912'],[.005,'#1d1230'],[.012,'#40387f'],[.018,'#3b6a98'],[.023,'#38889a'],[.03,'#4eb09f'],[.04,'#97d5ae'],[.045,'#d2ebdc']];
const sizeOf=p=>Math.max(.4,p/12);

/* polygon fill for violins, through the line element the library built */
const violinFill={id:'violinFill',beforeDatasetDraw(chart,{meta}){
  const line=meta.dataset;if(!line||!meta.controller.getDataset().violin)return;
  const ctx=chart.ctx;ctx.save();
  line.updateControlPoints(chart.chartArea,'x');
  ctx.beginPath();line.path(ctx);ctx.closePath();
  ctx.fillStyle=meta.controller.getDataset().backgroundColor;ctx.fill();ctx.restore();
}};
function violinDs(center,profile,color,stroke){
  const right=profile.map(([y,w])=>({x:center+w,y}));
  const left=profile.slice().reverse().filter(([,w])=>w>0).map(([y,w])=>({x:center-w,y}));
  return {violin:true,data:[...right,...left,right[0]],showLine:true,pointRadius:0,borderColor:stroke||'#3a3a3a',borderWidth:.7,backgroundColor:color,tension:.22,clip:false,fill:false};
}
function violinAxes(x0,x1,y0,y1,top,labels,numSize){
  return {
    x:{type:'linear',min:x0,max:x1,grid:{display:false},border:{color:'#666',width:1.1},
      ticks:labels?{stepSize:1,includeBounds:false,autoSkip:false,minRotation:45,maxRotation:45,padding:1,font:{size:9.2},color:'#222',callback:v=>fibroTypes[v]||''}:{display:false}},
    y:{type:'linear',min:y0,max:y1,afterBuildTicks:s=>{s.ticks=[{value:top}];},grid:{drawOnChartArea:false,drawTicks:true,tickLength:3,color:'#555'},border:{color:'#666',width:1.1},
      ticks:{padding:1,font:{size:numSize},color:'#222',callback:v=>String(v)}}
  };
}

/* ---------- A ---------- */
const dotData=[];dotRows.forEach((_,r)=>dotGenes.forEach((_,c)=>dotData.push({x:c,y:r,r:sizeOf(dotPct[r][c]),e:dotExpr[r][c]})));
plot({l:103.5,r:233.5,t:47,b:140.3},{l:103.5,t:4,r:6,b:30},{type:'bubble',data:{datasets:[{data:dotData,clip:false,borderWidth:0,backgroundColor:dotData.map(d=>mix(exprStops,d.e))}]},
 options:{scales:{
  x:{type:'linear',min:-.6,max:8.55,grid:{drawOnChartArea:false,tickLength:3,color:'#444'},border:{color:'#444',width:1},ticks:{stepSize:1,includeBounds:false,autoSkip:false,minRotation:90,maxRotation:90,padding:1,font:{size:8},color:'#333',callback:v=>dotGenes[v]}},
  y:{type:'linear',reverse:true,min:-.6,max:5.6,grid:{drawOnChartArea:false,tickLength:2.5,color:'#444'},border:{color:'#444',width:1},ticks:{stepSize:1,includeBounds:false,autoSkip:false,padding:1,font:{size:7.6,style:'italic'},color:'#333',callback:v=>dotRows[v]}}
 }}});
plot({l:52.3,r:119.2,t:157,b:175},{l:0,t:0,r:2,b:15},{type:'bubble',data:{datasets:[{data:pctLegend.map((p,i)=>({x:i,y:0,r:sizeOf(p)})),clip:false,borderWidth:0,backgroundColor:'#000'}]},
 options:{scales:{
  x:{type:'linear',position:'top',min:-.5,max:4.53,grid:{display:false,drawTicks:false},border:{display:false},ticks:{stepSize:1,includeBounds:false,autoSkip:false,minRotation:90,maxRotation:90,padding:0,labelOffset:13,font:{size:9.3},color:'#222',callback:v=>String(pctLegend[v])}},
  y:{type:'linear',display:false,min:-1,max:1}
 }}});
{const d=document.createElement('div');d.style.cssText='position:absolute;left:66px;top:203px;width:55px;height:11px;background:linear-gradient(to right,'+[2.1,1.5,1,.5,0,-.4,-1].map(v=>mix(exprStops,v)).join(',')+')';page.appendChild(d);}
[['Treg',49,61],['Mast Cell',49,91],['ILC2',49,121]].forEach(a=>T(a[0],a[1],a[2],{size:9.8,bold:true,align:'right',color:'#111'}));
T('Percent',27.7,166,{size:10});T('Expressed',27.7,178,{size:10});T('Average',26.7,197,{size:10});T('Expression',30,208.7,{size:10});
[['2',67.3],['1',85.3],['0',103.3]].forEach(a=>T(a[0],a[1],197,{size:9.5}));

/* ---------- B ---------- */
const panelBg={id:'panelBg',beforeDraw(ch,a,o){if(!o.color)return;const{left,top,width,height}=ch.chartArea;ch.ctx.save();ch.ctx.fillStyle=o.color;ch.ctx.fillRect(left,top,width,height);ch.ctx.restore();}};
plot({l:139.3,r:225.3,t:264.7,b:375.2},{l:139.3,t:2,r:5,b:15},{type:'bar',plugins:[panelBg],data:{labels:gseaPathways,datasets:[{data:gseaNes,backgroundColor:gseaPadj.map(p=>mix(padjStops,p)),barPercentage:.92,categoryPercentage:1}]},
 options:{indexAxis:'y',plugins:{panelBg:{color:'#e4e4e4'}},scales:{
  x:{type:'linear',min:-1.93,max:.09,grid:{color:'#fff',lineWidth:.8,tickLength:2.5,tickColor:'#444'},border:{display:false},ticks:{stepSize:.5,includeBounds:false,autoSkip:false,padding:0,font:{size:9.5},color:'#4d4d4d',callback:v=>v===0?'0.0':String(v).replace('-','−')}},
  y:{type:'category',grid:{offset:false,color:'#fff',lineWidth:.8,tickLength:2.5,tickColor:'#444'},border:{display:false},ticks:{autoSkip:false,padding:1,
    font:c=>({size:8.3,weight:gseaBold.includes(gseaPathways[c.index])?'bold':'normal'}),
    color:c=>gseaBold.includes(gseaPathways[c.index])?'#111':'#6a6a6a'}}
 }}});
T('<i>CreER</i> vs. <i>CreER;Il33<sup>f/f</sup></i>',182,244,{size:9.3,color:'#222'});
T('Fibroblasts',182,256,{size:9.3});
T('Normalized Enrichment Score',172.5,396,{size:9.9});
{const d=document.createElement('div');d.style.cssText='position:absolute;left:35px;top:420px;width:58px;height:12px;background:linear-gradient(to right,'+[.044,.04,.03,.023,.018,.012,.005,0].map(v=>mix(padjStops,v)).join(',')+')';page.appendChild(d);}
[['0.04',40],['0.03',53.3],['0.02',66.7],['0.01',80]].forEach(a=>T(a[0],a[1],408,{size:7.8,rot:-90,color:'#333'}));
T('padj',24.5,426,{size:8});

/* ---------- D ---------- */
const umapSets=[umap1,umap2,umap3,umap4,umap5,umap6];
const numFmt=v=>String(v).replace('-','−');
plot({l:293,r:421.7,t:312,b:427.7},{l:24,t:2,r:2,b:14},{type:'scatter',data:{datasets:umapSets.map((s,i)=>({data:s.map(p=>({x:p[0],y:p[1]})),backgroundColor:umapColors[i],borderWidth:0,pointRadius:1.5,clip:false}))},
 options:{scales:{
  x:{type:'linear',min:-8.08,max:7,grid:{drawOnChartArea:false,tickLength:2.5,color:'#333'},border:{color:'#333',width:1},ticks:{stepSize:4,includeBounds:false,padding:1,font:{size:9.2},color:'#222',callback:numFmt}},
  y:{type:'linear',min:-3.26,max:3.86,grid:{drawOnChartArea:false,tickLength:2.5,color:'#333'},border:{color:'#333',width:1},ticks:{stepSize:2,includeBounds:false,padding:1,font:{size:9.2},color:'#222',callback:numFmt}}
 }}});
T('UMAP_1',356,446.7,{size:9.3});T('UMAP_2',273,370,{size:9.3,rot:-90});
[['1',417,319,0],['2',368,327,1],['5',300.7,351,4],['6',328.7,351,5],['4',354,351,3],['3',366.7,419,2]].forEach(a=>T(a[0],a[1],a[2],{size:12,color:umapColors[a[3]]}));
const umapLegend=['1. iCAF','2. iCAF<sup>hi</sup>, myCAF<sup>lo</sup>','3. myCAF','4. myCAF<sup>hi</sup>, iCAF<sup>lo</sup>','5. apCAF','6. myCAF<sup>hi</sup>, apCAF<sup>lo</sup>'];
umapLegend.forEach((s,i)=>{const y=326.7+i*19.26;
 const d=document.createElement('div');d.style.cssText=`position:absolute;left:425px;top:${y-3}px;width:6px;height:6px;border-radius:50%;background:${umapColors[i]}`;page.appendChild(d);
 T(s,434,y,{size:9.6,align:'left'});});

/* ---------- E ---------- */
const violinCols=[
 {genes:[['Pdpn',Pdpn,3],['Pdgfra',Pdgfra,3],['Pdgfrb',Pdgfrb,3]],l:89.3,r:201.7,c0:100.3,sp:18,lab:84},
 {genes:[['Clec3b',Clec3b,4],['Ly6c1',Ly6c1,4],['Col14a1',Col14a1,4]],l:272,r:386.7,c0:282.7,sp:18.2,lab:266.7},
 {genes:[['Acta2',Acta2,5],['Col8a1',Col8a1,4],['Ccn2',Ccn2,5]],l:454.3,r:570,c0:466,sp:18.6,lab:450},
 {genes:[['Saa3',Saa3,7],['H2−Ab1',H2Ab1,4],['Slpi',Slpi,5]],l:640,r:756.7,c0:652,sp:18.67,lab:636}];
const rowTicks=[466.7,522.7,578.7],rowBottoms=[510.7,566.7,622.7],geneYs=[487,543,599];
violinCols.forEach(col=>col.genes.forEach(([name,prof,top],r)=>{
 const zero=rowBottoms[r]-1.4,ppu=(zero-rowTicks[r])/top;
 const x0=(col.l-col.c0)/col.sp,x1=(col.r-col.c0)/col.sp;
 plot({l:col.l,r:col.r,t:rowTicks[r]-2,b:rowBottoms[r]},{l:60,t:5,r:3,b:r===2?62:2},{type:'scatter',plugins:[violinFill],
  data:{datasets:prof.map((p,i)=>violinDs(i,p,fibroColors[i]))},
  options:{scales:violinAxes(x0,x1,-1.4/ppu,top+2/ppu,top,r===2,10.5)}});
 T(name,col.lab,geneYs[r],{size:9.4,italic:true,align:'right'});
}));
[['Pan-Fibroblast',35,542],['iCAF',217.3,540.7],['myCAF',401,543],['apCAF',587.3,542.7]].forEach(a=>T(a[0],a[1],a[2],{size:9.6,bold:true,rot:-90,color:'#111'}));

/* ---------- F ---------- */
plot({l:562.7,r:765,t:323,b:394},{l:60,t:4,r:2,b:66},{type:'scatter',plugins:[violinFill],
 data:{datasets:[...il33Control.map((p,i)=>violinDs(i-.235,p,'#cddcec')),...il33Flox.map((p,i)=>violinDs(i+.235,p,'#4a80c8'))]},
 options:{scales:violinAxes(-.575,5.61,-3/16.075,4+3.7/16.075,4,true,9.5)}});
T('Il33',556,357.7,{size:9.2,italic:true,align:'right'});
[[686.7,300,'#cddcec'],[686.7,315.7,'#4a80c8']].forEach(a=>{const d=document.createElement('div');d.style.cssText=`position:absolute;left:${a[0]}px;top:${a[1]}px;width:7px;height:7px;background:${a[2]};border:.7px solid #333`;page.appendChild(d);});
T('CreER<sup>T2/+</sup>',697,304,{size:9.6,italic:true,align:'left'});
T('CreER<sup>T2/+</sup>;Il33<sup>f/f</sup>',697,320,{size:9.6,italic:true,align:'left'});

/* ---------- G ---------- */
const frame={id:'frame',afterDraw(ch){const{left,top,width,height}=ch.chartArea;const c=ch.ctx;c.save();c.strokeStyle='#666';c.lineWidth=1;c.strokeRect(left,top,width,height);c.restore();}};
const barText={id:'barText',afterDatasetsDraw(ch){const c=ch.ctx;c.save();c.font='italic 8px '+FONT;c.fillStyle='#222';c.textAlign='center';c.textBaseline='middle';
 ch.data.datasets.forEach((ds,i)=>{ch.getDatasetMeta(i).data.forEach((b,j)=>{c.fillText(ds.data[j].y.toFixed(1),b.x,b.y+5.2);});});c.restore();}};
plot({l:40,r:231.7,t:726,b:914},{l:40,t:2,r:3,b:16},{type:'bar',plugins:[barText,frame],
 data:{datasets:compStackOrder.map((cIdx,i)=>({data:[{x:0,y:compCre[i]},{x:1,y:compFlox[i]}],backgroundColor:fibroColors[cIdx],barThickness:45.6,borderWidth:0}))},
 options:{scales:{
  x:{type:'linear',offset:false,stacked:true,min:-.73,max:1.37,grid:{offset:false,color:'#dcdcdc',lineWidth:.8,tickLength:2.5,tickColor:'#666'},border:{display:false},ticks:{stepSize:1,includeBounds:false,autoSkip:false,padding:1,font:{size:9.3,style:'italic'},color:'#333',callback:v=>compGroups[v]||''}},
  y:{type:'linear',stacked:true,min:-5.3,max:105.3,grid:{color:c=>c.tick&&c.tick.value%25===0?'#d9d9d9':'#ececec',lineWidth:.8,drawTicks:false},border:{display:false},ticks:{stepSize:12.5,includeBounds:false,autoSkip:false,padding:4,font:{size:9},color:'#666',callback:v=>v%25===0?v+'%':''}}
 }}});
T('% of Total Fibroblasts',5,823,{size:9.9,rot:-90,color:'#333'});
[['iCAF<sup>hi</sup>',60,772],['59.4%',60,784],['myCAF<sup>hi</sup>',60,857],['35.7%',59,868],['apCAF',65,900],['iCAF<sup>hi</sup>',150,752],['26.7%',150,764],['myCAF<sup>hi</sup>',150,830.7],['63.1%',150,842],['apCAF',155,897]].forEach(a=>T(a[0],a[1],a[2],{size:9.5,italic:true}));

/* ---------- C, H chord diagrams: rings are doughnuts, ribbons read their arcs ---------- */
function chord(cx,cy,R,rot,names,spans,colors,links,dstStep,edgeA,edgeW){
  const byName=Object.fromEntries(names.map((n,i)=>[n,i]));
  const totals={};links.forEach(l=>totals[l[0]]=(totals[l[0]]||0)+l[2]);
  const col=k=>k==='gap'?'rgba(0,0,0,0)':pal[k];
  const innerData=[],innerCol=[];
  names.forEach((n,i)=>{
    if(totals[n]){
      links.filter(l=>l[0]===n).forEach(l=>{innerData.push(spans[i]*l[2]/totals[n]);innerCol.push(col(colors[byName[l[1]]]));});
    }else{innerData.push(spans[i]);innerCol.push('rgba(0,0,0,0)');}
  });
  const ribbons={id:'ribbons',afterDatasetsDraw(ch){
    const arcs=ch.getDatasetMeta(0).data,c=ch.ctx,cx0=arcs[0].x,cy0=arcs[0].y,r=ch.getDatasetMeta(2).data[0].innerRadius-.8;
    const dstTot={};links.forEach(l=>dstTot[l[1]]=(dstTot[l[1]]||0)+l[2]);
    const sUsed={},dUsed={};
    const pts=(a,b,step)=>{const out=[];let t=b;while(t>a+1e-4){out.unshift(t);t-=step;}out.unshift(a);return out;};
    links.forEach(l=>{
      const si=byName[l[0]],di=byName[l[1]],sa=arcs[si],da=arcs[di];
      const sw=sa.endAngle-sa.startAngle,dw=da.endAngle-da.startAngle;
      const a1=sa.startAngle+sw*(sUsed[l[0]]||0),a2=a1+sw*l[2]/totals[l[0]];sUsed[l[0]]=(sUsed[l[0]]||0)+l[2]/totals[l[0]];
      const b2=da.endAngle-dw*(dUsed[l[1]]||0),b1=b2-dw*l[2]/dstTot[l[1]];dUsed[l[1]]=(dUsed[l[1]]||0)+l[2]/dstTot[l[1]];
      const P=t=>[cx0+r*Math.cos(t),cy0+r*Math.sin(t)];
      c.beginPath();
      pts(a1,a2,.05).forEach((t,i)=>{const p=P(t);i?c.lineTo(p[0],p[1]):c.moveTo(p[0],p[1]);});
      let p=P(b1);c.quadraticCurveTo(cx0,cy0,p[0],p[1]);
      pts(b1,b2,dstStep*Math.PI/180).forEach(t=>{const q=P(t);c.lineTo(q[0],q[1]);});
      p=P(a1);c.quadraticCurveTo(cx0,cy0,p[0],p[1]);
      c.closePath();
      c.fillStyle=hexA(col(colors[si]),.56);c.fill();
      c.strokeStyle=`rgba(255,255,255,${edgeA})`;c.lineWidth=edgeW;c.stroke();
    });
  }};
  const cv=document.createElement('canvas');const S=2*R+4;
  cv.width=S;cv.height=S;cv.style.left=(cx-S/2)+'px';cv.style.top=(cy-S/2)+'px';cv.style.width=S+'px';cv.style.height=S+'px';
  page.appendChild(cv);
  new Chart(cv,{type:'doughnut',plugins:[ribbons],data:{datasets:[
    {data:spans,backgroundColor:colors.map(col),borderWidth:0,weight:2.4},
    {data:[1],backgroundColor:['rgba(0,0,0,0)'],borderWidth:0,weight:.8},
    {data:innerData,backgroundColor:innerCol,borderWidth:0,weight:1.6}]},
   options:{responsive:false,animation:false,events:[],rotation:rot,radius:R,cutout:R-4.8,plugins:{legend:{display:false},tooltip:{enabled:false}},layout:{padding:0}}});
}
chord(359.7,168.3,83.7,0,cLeftSectors,cLeftSpans,cLeftColors,cLeftLinks,66,.85,.5);
chord(621.3,166.7,83.7,0,cRightSectors,cRightSpans,cRightColors,cRightLinks,32,.85,.5);
chord(373.3,824.3,84,-2.8,hLeftSectors,hLeftSpans,hLeftColors,hLeftLinks,9,.3,.3);
chord(640,823.3,83.5,-10.3,hRightSectors,hRightSpans,hRightColors,hRightLinks,9,.3,.3);

[cLeftText,cRightText,hLeftText,hRightText].forEach(tbl=>tbl.forEach(a=>T(a[0],a[1],a[2],{size:8.2,italic:true,rot:a[3],color:textCol[a[4]]})));
T('Enriched Signaling in <i>CreER</i>',359.3,10,{size:11.5});
T('Enriched Signaling in <i>CreER;Il33<sup>f/f</sup></i>',620,10,{size:11.5});
T('Enriched Signaling in <i>CreER</i>',372.7,703.3,{size:11.5});
T('Enriched Signaling in <i>CreER;Il33<sup>f/f</sup></i>',640,704,{size:11.5});
T('Fibroblast',490,168.7,{size:11.4,bold:true,color:'#6fa6a2'});T('receiving',490,183,{size:11.2,italic:true,color:'#6fa6a2'});
T('Fibroblast',316.7,911.7,{size:11.4,bold:true,color:'#6fa6a2'});T('sending',316,925.7,{size:11.2,italic:true,color:'#6fa6a2'});
T('Fibroblast',719,911.7,{size:11.4,bold:true,color:'#6fa6a2'});T('sending',719,925.7,{size:11.2,italic:true,color:'#6fa6a2'});

/* ---------- panel letters ---------- */
[['A',6,14],['B',7,242.7],['C',251,10.7],['D',273,310],['E',6.5,460],['F',547,306.7],['G',7,706],['H',249,700]].forEach(a=>T(a[0],a[1],a[2],{size:15.5,bold:true,color:'#000'}));

/* ---------- leader and bracket lines ---------- */
const NS='http://www.w3.org/2000/svg';
const svg=document.createElementNS(NS,'svg');svg.setAttribute('width',777);svg.setAttribute('height',932);page.appendChild(svg);
function lines(list,ox,oy,color,w){list.forEach(l=>{const e=document.createElementNS(NS,'line');
 e.setAttribute('x1',ox+l[0]/3);e.setAttribute('y1',oy+l[1]/3);e.setAttribute('x2',ox+l[2]/3);e.setAttribute('y2',oy+l[3]/3);
 e.setAttribute('stroke',color);e.setAttribute('stroke-width',w);svg.appendChild(e);});}
lines([[292,250,292,198],[305,250,312,200],[315,248,345,165],[328,245,362,180],[347,245,383,212],[352,248,410,218],[358,250,428,235],[280,250,275,200],[305,757,265,770],[316,760,275,795],[324,762,300,815],[330,762,312,825]],240,0,'#111',.6);
lines([[398,245,398,190],[410,245,420,205],[413,250,437,205],[612,425,635,425],[612,430,640,445],[610,438,645,470],[605,442,650,485],[612,574,625,582],[362,757,330,775],[370,762,345,790],[375,765,370,785]],500,0,'#111',.6);
lines([[378,125,381,150],[222,135,270,190],[205,150,258,198],[180,172,248,200],[180,195,245,208],[185,218,225,215],[645,330,710,320],[643,340,730,342],[645,352,735,360],[645,362,740,380],[650,368,740,400],[650,378,735,420],[650,385,720,445],[650,395,690,455],[85,355,150,440],[85,385,150,445],[85,408,155,450],[85,432,155,458],[95,450,160,462],[125,473,165,470],[130,490,170,478],[160,500,175,490]],240,690,'#111',.6);
lines([[347,118,352,150],[218,158,265,180],[198,172,252,190],[183,195,240,205],[185,218,230,210],[650,307,705,290],[650,322,725,320],[652,330,735,330],[650,340,740,350],[652,350,740,370],[655,368,725,388],[655,380,695,405],[95,380,155,425],[125,402,155,432],[100,425,160,440],[105,450,160,450],[120,480,165,460]],505,690,'#111',.6);
lines([[161,156,161,228],[161,246,161,318],[161,336,161,396]],0,0,'#777',1);
lines([[133,100,133,457],[680,100,680,457]],0,450,'#444',.9);
lines([[58,100,58,457],[617,100,617,457]],390,450,'#444',.9);
lines([[241,140,241,425]],0,690,'#c97b4f',1);lines([[241,437,241,617]],0,690,'#2a8db0',1);
lines([[513,140,513,270]],0,690,'#e8bda5',2);lines([[513,278,513,593]],0,690,'#a3cbdc',2);
</script></body></html>
